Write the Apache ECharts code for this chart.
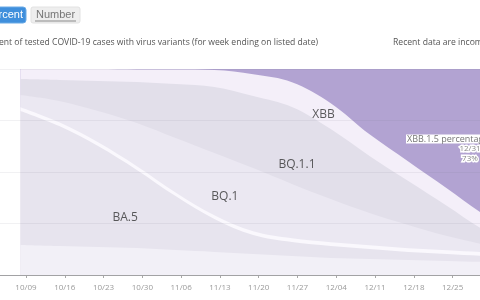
<!DOCTYPE html>
<html><head><meta charset="utf-8">
<script src="https://cdn.jsdelivr.net/npm/echarts@6.0.0/dist/echarts.min.js"></script>
<style>html,body{margin:0;padding:0;background:#fff}#c{width:480px;height:300px}</style>
</head><body><div id="c"></div>
<script>
// week ending dates (Saturdays); x position = days after 10/09 tick = index*7 - 1
const weekEnding = ['10/08','10/15','10/22','10/29','11/05','11/12','11/19','11/26','12/03','12/10','12/17','12/24','12/31','01/07'];
const tickLabels = ['10/09','10/16','10/23','10/30','11/06','11/13','11/20','11/27','12/04','12/11','12/18','12/25','01/01'];
// percent shares, bottom -> top
const other  = [14.6, 14.1, 13.6, 13.1, 12.1, 11.2, 10.2, 9.2, 8.3, 7.8, 7.3, 6.8, 6.3, 5.8];
const ba5    = [65.0, 58.2, 49.0, 37.9, 26.2, 16.0, 9.2, 6.8, 5.8, 4.8, 3.9, 3.4, 2.9, 2.5];
const bf7    = [1.8, 1.8, 1.8, 1.8, 1.8, 1.8, 1.8, 1.8, 1.8, 1.8, 1.8, 1.8, 1.8, 1.8];
const bq1    = [6.0, 10.4, 15.2, 21.0, 26.4, 30.2, 30.7, 26.4, 21.0, 15.7, 11.3, 6.9, 3.6, 1.1];
const bq11   = [7.7, 10.2, 14.6, 19.9, 26.2, 32.1, 35.0, 37.4, 34.0, 27.7, 21.3, 14.6, 6.8, 2.9];
const xbb    = [4.9, 5.3, 5.8, 6.1, 7.0, 8.2, 10.5, 12.0, 12.5, 10.5, 9.5, 8.5, 7.5, 6.0];
const xbb15  = [0, 0, 0, 0.2, 0.3, 0.5, 2.6, 6.4, 16.6, 31.7, 44.9, 58.0, 71.1, 79.9];

const layers = [
  { name: 'Other', values: other, color: '#f2f0f7' },
  { name: 'BA.5', values: ba5, color: '#e7e4ee' },
  { name: 'BF.7', values: bf7, color: '#faf8fd' },
  { name: 'BQ.1', values: bq1, color: '#ebe8f2' },
  { name: 'BQ.1.1', values: bq11, color: '#e2dfea' },
  { name: 'XBB', values: xbb, color: '#f4eff9' },
  { name: 'XBB.1.5', values: xbb15, color: '#b2a3d2' }
];
const dayOf = i => i * 7 - 1;
const tickDays = tickLabels.map((_, i) => i * 7);

// cumulative tops (stacking)
let running = weekEnding.map(() => 0);
const cumSeries = layers.map(l => {
  running = running.map((r, i) => r + l.values[i]);
  return { name: l.name, color: l.color, data: running.map((v, i) => [dayOf(i), Math.min(v, 100)]) };
});
// draw top layer first so lower layers cover it
const series = cumSeries.slice().reverse().map(s => ({
  name: s.name, type: 'line', data: s.data, smooth: 0.35, symbol: 'none',
  lineStyle: { width: 0 }, areaStyle: { color: s.color, opacity: 1, origin: 'start' },
  emphasis: { disabled: true }, silent: true, z: 2
}));
series.push({
  type: 'scatter', symbolSize: 0, silent: true, z: 6,
  label: { show: true, position: 'inside', formatter: p => p.name, fontFamily: 'Open Sans', fontSize: 12, color: '#333333' },
  data: [
    { name: 'BA.5', value: [17.9, 27.7] },
    { name: 'BQ.1', value: [35.9, 38.3] },
    { name: 'BQ.1.1', value: [48.9, 53.7] },
    { name: 'XBB', value: [53.7, 78.0] }
  ]
});

const chart = echarts.init(document.getElementById('c'), null, { renderer: 'canvas' });
chart.setOption({
  animation: false,
  backgroundColor: '#ffffff',
  grid: { left: 0, right: 0, top: 69, height: 206, containLabel: false },
  xAxis: {
    type: 'value', min: -4.69, max: 81.94,
    axisLine: { show: true, lineStyle: { color: '#a8a8a8', width: 1 } },
    axisTick: { show: true, length: 3, customValues: tickDays, lineStyle: { color: '#a8a8a8' } },
    axisLabel: {
      customValues: tickDays, margin: 9, fontSize: 8, color: '#9a9a9a', fontFamily: 'Open Sans',
      formatter: v => tickLabels[Math.round(v / 7)] || ''
    },
    splitLine: { show: false }
  },
  yAxis: {
    type: 'value', min: 0, max: 100, interval: 25, z: 5,
    axisLine: { show: false }, axisTick: { show: false }, axisLabel: { show: false },
    splitLine: { show: true, lineStyle: { color: 'rgba(120,120,140,0.10)', width: 1 } }
  },
  series: series,
  graphic: [
    { type: 'rect', shape: { x: -30, y: 7, width: 56, height: 16, r: 3 }, style: { fill: '#3f8fdc', stroke: '#6aaae6', lineWidth: 1 } },
    { type: 'text', x: 23, y: 15, style: { text: 'Percent', fill: '#ffffff', font: '11px "Liberation Sans"', textAlign: 'right', textVerticalAlign: 'middle' } },
    { type: 'rect', shape: { x: 31, y: 7, width: 49, height: 16, r: 2 }, style: { fill: '#eeeeee', stroke: '#e2e2e2', lineWidth: 1 } },
    { type: 'text', x: 55.5, y: 15, style: { text: 'Number', fill: '#777777', font: '11px "Liberation Sans"', textAlign: 'center', textVerticalAlign: 'middle' } },
    { type: 'line', shape: { x1: 35, y1: 21, x2: 76, y2: 21 }, style: { stroke: '#8a8a8a', lineWidth: 1 } },
    { type: 'text', x: 318, y: 43, style: { text: 'Percent of tested COVID-19 cases with virus variants (for week ending on listed date)', fill: '#555555', font: '8.6px "Open Sans"', textAlign: 'right', textVerticalAlign: 'middle' } },
    { type: 'text', x: 393, y: 43, style: { text: 'Recent data are incomplete', fill: '#555555', font: '8.6px "Open Sans"', textAlign: 'left', textVerticalAlign: 'middle' } },
    { type: 'text', x: 406, y: 139, z: 10, style: { text: 'XBB.1.5 percentage', fill: '#777777', font: '9px "Open Sans"', textAlign: 'left', textVerticalAlign: 'middle', backgroundColor: '#ffffff', padding: [0, 1] } },
    { type: 'text', x: 470, y: 149, z: 10, style: { text: '12/31', fill: '#888888', font: '8px "Open Sans"', textAlign: 'center', textVerticalAlign: 'middle', stroke: '#ffffff', lineWidth: 3 } },
    { type: 'text', x: 470, y: 159, z: 10, style: { text: '73%', fill: '#888888', font: '8px "Open Sans"', textAlign: 'center', textVerticalAlign: 'middle', stroke: '#ffffff', lineWidth: 3 } }
  ]
});
</script>
</body></html>
